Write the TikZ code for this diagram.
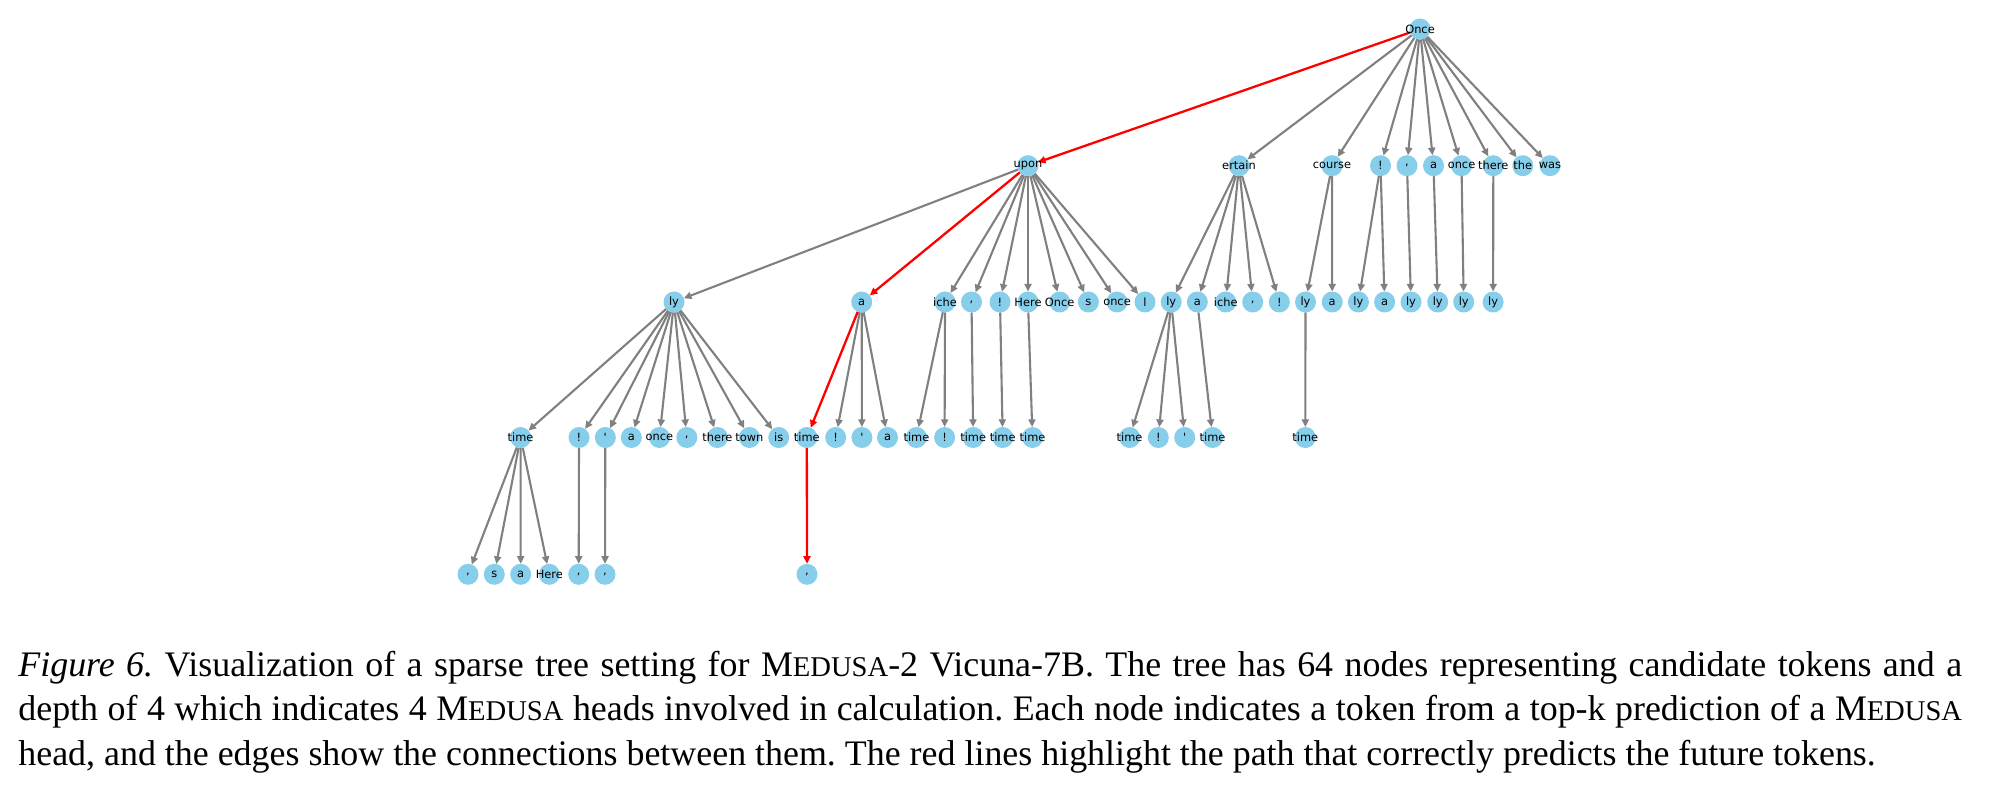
\documentclass[tikz,border=0pt]{standalone}
\usepackage{fontspec}
\setmainfont{Liberation Serif}
\newfontfamily\lblfont{DejaVu Sans}
\usetikzlibrary{arrows.meta}
\definecolor{skyb}{HTML}{87CEEB}
\definecolor{edgegray}{HTML}{808080}
\pgfdeclarelayer{bg}
\pgfdeclarelayer{fg}
\pgfsetlayers{bg,main,fg}
\newcommand\medusafake{M{\fontsize{14.3pt}{14.3pt}\selectfont EDUSA}}
\newcommand\tkn[4]{%
  \node[tok] (#1) at (#2,#3) {};
  \begin{pgfonlayer}{fg}\node[lbl] at (#1) {#4};\end{pgfonlayer}}
\frenchspacing
\begin{document}
\begin{tikzpicture}[x=0.5pt,y=-0.5pt,
  tok/.style={circle,fill=skyb,minimum size=10.5pt,inner sep=0pt,outer sep=0pt},
  lbl/.style={font=\lblfont\fontsize{5.7pt}{6pt}\selectfont,inner sep=0pt,text=black},
  edge/.style={draw=edgegray,line width=1.05pt,-{Triangle[length=3.8pt,width=3.5pt]}},
  redge/.style={edge,draw=red,line width=1.15pt},
  capl/.style={font=\fontsize{17.95pt}{22pt}\selectfont,inner sep=0pt,anchor=base west}]
\begin{pgfonlayer}{bg}
\fill[white] (0,0) rectangle (2000,790);
\end{pgfonlayer}
\useasboundingbox (0,0) rectangle (2000,790);
% level 0
\tkn{r}{1420}{29}{Once}
% level 1
\tkn{a01}{1028}{165.7}{upon}
\tkn{a02}{1239}{165.7}{ertain}
\tkn{a03}{1332}{165.7}{course}
\tkn{a04}{1380.5}{165.7}{!}
\tkn{a05}{1407}{165.7}{,}
\tkn{a06}{1433.5}{165.7}{a}
\tkn{a07}{1461.5}{165.7}{once}
\tkn{a08}{1493.3}{165.7}{there}
\tkn{a09}{1522.8}{165.7}{the}
\tkn{a10}{1550}{165.7}{was}
% level 2
\tkn{b01}{674}{302}{ly}
\tkn{b02}{861.7}{302}{a}
\tkn{b03}{945}{302}{iche}
\tkn{b04}{971.5}{302}{,}
\tkn{b05}{1000}{302}{!}
\tkn{b06}{1028}{302}{Here}
\tkn{b07}{1059.7}{302}{Once}
\tkn{b08}{1088.4}{302}{s}
\tkn{b09}{1117}{302}{once}
\tkn{b10}{1145}{302}{l}
\tkn{b11}{1171.2}{302}{ly}
\tkn{b12}{1197.3}{302}{a}
\tkn{b13}{1225.7}{302}{iche}
\tkn{b14}{1252.7}{302}{,}
\tkn{b15}{1279.3}{302}{!}
\tkn{b16}{1305.5}{302}{ly}
\tkn{b17}{1332.2}{302}{a}
\tkn{b18}{1358.4}{302}{ly}
\tkn{b19}{1384.6}{302}{a}
\tkn{b20}{1411}{302}{ly}
\tkn{b21}{1437.7}{302}{ly}
\tkn{b22}{1463.7}{302}{ly}
\tkn{b23}{1493.1}{302}{ly}
% level 3
\tkn{d01}{520.6}{437.5}{time}
\tkn{d02}{579}{437.5}{!}
\tkn{d03}{605.3}{437.5}{\textquotesingle}
\tkn{d04}{631.3}{437.5}{a}
\tkn{d05}{659.4}{437.5}{once}
\tkn{d06}{686.8}{437.5}{,}
\tkn{d07}{717.4}{437.5}{there}
\tkn{d08}{749.4}{437.5}{town}
\tkn{d09}{778.7}{437.5}{is}
\tkn{d10}{806.8}{437.5}{time}
\tkn{d11}{835.7}{437.5}{!}
\tkn{d12}{861.9}{437.5}{\textquotesingle}
\tkn{d13}{887.5}{437.5}{a}
\tkn{d14}{916.4}{437.5}{time}
\tkn{d15}{944.6}{437.5}{!}
\tkn{d16}{973.2}{437.5}{time}
\tkn{d17}{1002.7}{437.5}{time}
\tkn{d18}{1032.5}{437.5}{time}
\tkn{d19}{1129.6}{437.5}{time}
\tkn{d20}{1158.3}{437.5}{!}
\tkn{d21}{1184.7}{437.5}{\textquotesingle}
\tkn{d22}{1212.6}{437.5}{time}
\tkn{d23}{1305.3}{437.5}{time}
% level 4
\tkn{e01}{468}{574.3}{,}
\tkn{e02}{494.3}{574.3}{s}
\tkn{e03}{520.7}{574.3}{a}
\tkn{e04}{549.3}{574.3}{Here}
\tkn{e05}{578.7}{574.3}{,}
\tkn{e06}{605}{574.3}{,}
\tkn{e07}{807}{574.3}{,}
% edges
\begin{pgfonlayer}{bg}
\foreach \s/\t in {r/a02,r/a03,r/a04,r/a05,r/a06,r/a07,r/a08,r/a09,r/a10,
  a01/b01,a01/b03,a01/b04,a01/b05,a01/b06,a01/b07,a01/b08,a01/b09,a01/b10,
  a02/b11,a02/b12,a02/b13,a02/b14,a02/b15,
  a03/b16,a03/b17,a04/b18,a04/b19,a05/b20,a06/b21,a07/b22,a08/b23,
  b01/d01,b01/d02,b01/d03,b01/d04,b01/d05,b01/d06,b01/d07,b01/d08,b01/d09,
  b02/d11,b02/d12,b02/d13,b03/d14,b03/d15,b04/d16,b05/d17,b06/d18,
  b11/d19,b11/d20,b11/d21,b12/d22,b16/d23,
  d01/e01,d01/e02,d01/e03,d01/e04,d02/e05,d03/e06}
  \draw[edge] (\s) -- (\t);
\foreach \s/\t in {r/a01,a01/b02,b02/d10,d10/e07}
  \draw[redge] (\s) -- (\t);
\end{pgfonlayer}
% caption
\node[capl] (cap1) at (18,676.7) {\makebox[971.85pt][s]{\textit{Figure 6.} Visualization of a sparse tree setting for \medusafake-2 Vicuna-7B. The tree has 64 nodes representing candidate tokens and a}};
\node[capl] (cap2) at (18,720.7) {\makebox[971.85pt][s]{depth of 4 which indicates 4 \medusafake{} heads involved in calculation. Each node indicates a token from a top-k prediction of a \medusafake}};
\node[capl] (cap3) at (18,765.7) {head, and the edges show the connections between them. The red lines highlight the path that correctly predicts the future tokens.};
\end{tikzpicture}
\end{document}
